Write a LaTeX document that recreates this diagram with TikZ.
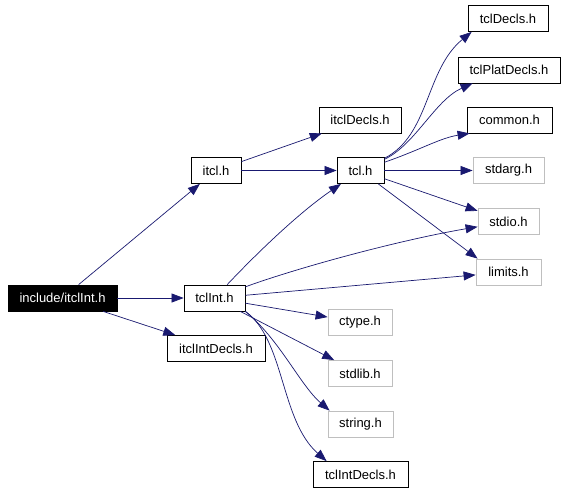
\documentclass[tikz,border=0pt]{standalone}
\usepackage{fontspec}
\setmainfont{Liberation Sans}
\usepackage{tikz}
\usetikzlibrary{arrows.meta}
\definecolor{edgeBlue}{HTML}{191970}
\definecolor{sysGray}{HTML}{BFBFBF}

\begin{document}
\begin{tikzpicture}[x=1pt, y=-1pt,
  file/.style={draw=black, line width=0.8pt, minimum height=26pt, inner sep=0pt,
    font=\fontsize{13}{15}\selectfont},
  sysfile/.style={file, draw=sysGray},
  rootfile/.style={file, fill=black, text=white},
  edge/.style={draw=edgeBlue, line width=0.7pt, -{Triangle[length=12pt,width=9pt]}}]
  % Page frame
  \fill[white] (0,0) rectangle (565,493);
  \useasboundingbox (0,0) rectangle (565,493);

  % Root file
  \node[rootfile, minimum width=109pt] (itclInt) at (62.5,298) {include/itclInt.h};

  % First level
  \node[file, minimum width=50pt] (itcl) at (216,170.5) {itcl.h};
  \node[file, minimum width=61pt] (tclInt) at (214.5,298) {tclInt.h};
  \node[file, minimum width=98pt] (itclIntDecls) at (216,348.5) {itclIntDecls.h};

  % Second level
  \node[file, minimum width=82pt] (itclDecls) at (360,120) {itclDecls.h};
  \node[file, minimum width=47pt] (tcl) at (360.5,170.5) {tcl.h};
  \node[sysfile, minimum width=64pt] (ctype) at (360,322.5) {ctype.h};
  \node[sysfile, minimum width=64pt] (stdlib) at (360,373.5) {stdlib.h};
  \node[sysfile, minimum width=65pt] (string) at (360.5,424) {string.h};
  \node[file, minimum width=95pt] (tclIntDecls) at (360.5,474.5) {tclIntDecls.h};

  % Third level
  \node[file, minimum width=80pt] (tclDecls) at (508,18.5) {tclDecls.h};
  \node[file, minimum width=102pt] (tclPlatDecls) at (509,70) {tclPlatDecls.h};
  \node[file, minimum width=85pt] (common) at (509.5,120) {common.h};
  \node[sysfile, minimum width=71pt] (stdarg) at (508.5,170.5) {stdarg.h};
  \node[sysfile, minimum width=61pt] (stdio) at (508.5,221.5) {stdio.h};
  \node[sysfile, minimum width=65pt] (limits) at (508.5,272) {limits.h};

  % Includes of the root file
  \draw[edge] (itclInt) -- (itcl);
  \draw[edge] (itclInt) -- (tclInt);
  \draw[edge] (itclInt) -- (itclIntDecls);

  % itcl.h
  \draw[edge] (itcl) -- (itclDecls);
  \draw[edge] (itcl) -- (tcl);

  % tcl.h
  \draw[edge] (tcl) .. controls (430,135) and (425,70) .. ([xshift=4pt]tclDecls.south west);
  \draw[edge] (tcl) .. controls (415,145) and (435,100) .. ([xshift=15pt]tclPlatDecls.south west);
  \draw[edge] (tcl) .. controls (420,150) and (440,138) .. ([xshift=3pt]common.south west);
  \draw[edge] (tcl) -- (stdarg);
  \draw[edge] (tcl) -- (stdio);
  \draw[edge] (tcl) -- ([xshift=2pt]limits.north west);

  % tclInt.h
  \draw[edge] (tclInt) .. controls (260,250) and (300,212) .. (tcl);
  \draw[edge] (tclInt) .. controls (300,267) and (400,240) .. (stdio);
  \draw[edge] (tclInt) -- (limits);
  \draw[edge] (tclInt) -- (ctype);
  \draw[edge] (tclInt) -- (stdlib);
  \draw[edge] (tclInt.south east) .. controls (280,340) and (300,385) .. ([xshift=2pt]string.north west);
  \draw[edge] (tclInt.south east) .. controls (285,340) and (280,420) .. ([xshift=14pt]tclIntDecls.north west);
\end{tikzpicture}
\end{document}
